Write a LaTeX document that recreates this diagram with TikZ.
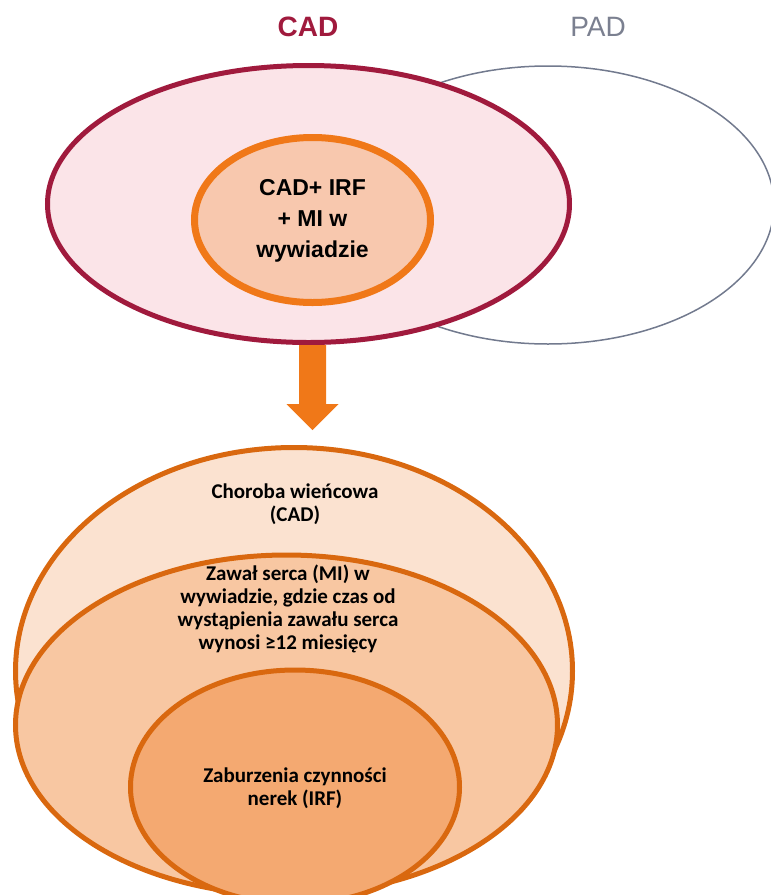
\documentclass[tikz,border=0pt]{standalone}
\usepackage{fontspec}
\setmainfont{Liberation Sans}
\newfontfamily\calib{Carlito}
\usetikzlibrary{shapes.geometric}
\definecolor{cadred}{HTML}{A01A3D}
\definecolor{cadfill}{HTML}{FBE4E8}
\definecolor{padgray}{HTML}{727A8E}
\definecolor{padtext}{HTML}{7B8090}
\definecolor{brightor}{HTML}{F07818}
\definecolor{topinner}{HTML}{F8C8AE}
\definecolor{darkor}{HTML}{D9680F}
\definecolor{fillA}{HTML}{FBE2D0}
\definecolor{fillB}{HTML}{F8C7A2}
\definecolor{fillC}{HTML}{F4A971}
\tikzset{
  ell/.style={ellipse, inner sep=0pt, outer sep=0pt},
  toptxt/.style={font=\fontsize{23}{31}\selectfont\bfseries, align=center, text=black},
  lowtxt/.style={font=\calib\fontsize{21}{23}\selectfont\bfseries, align=center, text=black},
}
\begin{document}
\begin{tikzpicture}[x=1pt,y=-1pt]
\useasboundingbox (0,0) rectangle (771,895);
\begin{scope}
\clip (0,0) rectangle (771,895);
% top Venn
\node[ell, draw=padgray, line width=1.5pt, minimum width=452pt, minimum height=278pt] (pad) at (548,205) {};
\node[ell, draw=cadred, fill=cadfill, line width=5pt, minimum width=522pt, minimum height=277pt] (cad) at (308.5,204) {};
\node[ell, draw=brightor, fill=topinner, line width=7pt, minimum width=236pt, minimum height=165pt] (cadin) at (312.5,220) {};
\node[toptxt] (cadintxt) at (312.5,221) {CAD+ IRF\\+ MI w\\wywiadzie};
\node[font=\fontsize{28}{30}\selectfont\bfseries, text=cadred] (cadlbl) at (308,27) {CAD};
\node[font=\fontsize{28}{30}\selectfont, text=padtext] (padlbl) at (598,27) {PAD};
% arrow
\fill[brightor] (299,345) -- (326,345) -- (326,404) -- (338.5,404) -- (312.5,430) -- (286.5,404) -- (299,404) -- cycle;
% bottom nested ellipses
\node[ell, draw=darkor, fill=fillA, line width=5pt, minimum width=557pt, minimum height=447pt] (outer) at (294,671) {};
\node[ell, draw=darkor, fill=fillB, line width=5pt, minimum width=542pt, minimum height=340pt] (middle) at (286.5,725) {};
\node[ell, draw=darkor, fill=fillC, line width=5pt, minimum width=329pt, minimum height=234pt] (inner) at (295,787) {};
\node[lowtxt] (t1) at (295,504) {Choroba wieńcowa\\(CAD)};
\node[lowtxt] (t2) at (288,609) {Zawał serca (MI) w\\wywiadzie, gdzie czas od\\wystąpienia zawału serca\\wynosi ≥12 miesięcy};
\node[lowtxt] (t3) at (295,788) {Zaburzenia czynności\\nerek (IRF)};
\end{scope}
\end{tikzpicture}
\end{document}
